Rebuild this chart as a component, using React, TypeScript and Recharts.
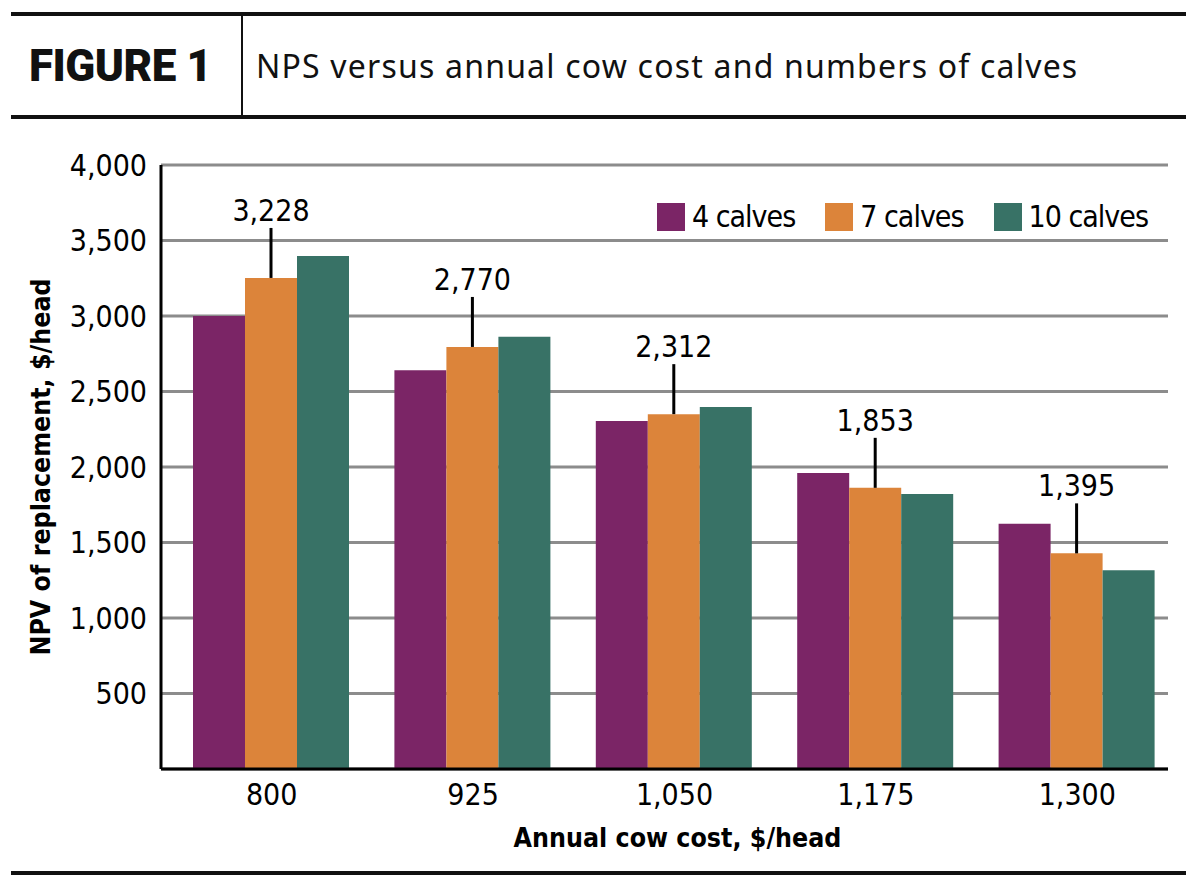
import React from 'react'
import {
  BarChart,
  Bar,
  XAxis,
  YAxis,
  CartesianGrid,
  Legend,
  LabelList,
} from 'recharts'

// annual cow cost, $/head
const categories = ['800', '925', '1,050', '1,175', '1,300']
// NPV of replacement, $/head
const calves4 = [3000, 2640, 2305, 1960, 1625]
const calves7 = [3252, 2795, 2350, 1862, 1428]
const calves10 = [3398, 2863, 2398, 1822, 1316]
// callout values printed above the 7-calf bars
const callouts = ['3,228', '2,770', '2,312', '1,853', '1,395']
const yTicks = [500, 1000, 1500, 2000, 2500, 3000, 3500, 4000]
const seriesNames = ['4 calves', '7 calves', '10 calves']
const seriesColors = ['#7b2566', '#dc843a', '#387266']

const FONT = "'Liberation Sans Narrow', 'DejaVu Sans Condensed', 'Roboto', sans-serif"

const data = categories.map((cat, i) => ({
  cat,
  c4: calves4[i],
  c7: calves7[i],
  c10: calves10[i],
  callout: callouts[i],
}))

const Callout = (props: any) => {
  const { x, y, width, value } = props
  const cx = x + width / 2
  return (
    <g>
      <line x1={cx} y1={y} x2={cx} y2={y - 50} stroke="#000" strokeWidth={3} />
      <text
        x={cx}
        y={y - 57}
        textAnchor="middle"
        fontFamily={FONT}
        fontSize={30}
        fill="#000"
      >
        {value}
      </text>
    </g>
  )
}

const LegendContent = () => (
  <div style={{ display: 'flex', alignItems: 'center', fontFamily: FONT, fontSize: 30 }}>
    {seriesNames.map((name, i) => (
      <div key={name} style={{ display: 'flex', alignItems: 'center', marginRight: i < 2 ? 30 : 0 }}>
        <span
          style={{
            display: 'inline-block',
            width: 28,
            height: 28,
            background: seriesColors[i],
            marginRight: 7,
          }}
        />
        <span style={{ color: '#000', lineHeight: '30px', letterSpacing: -1 }}>{name}</span>
      </div>
    ))}
  </div>
)

const YTitle = (props: any) => {
  const { viewBox } = props
  const x = viewBox.x + 40
  const y = viewBox.y + viewBox.height / 2
  return (
    <text
      x={x}
      y={y}
      transform={`rotate(-90, ${x}, ${y})`}
      textAnchor="middle"
      dominantBaseline="central"
      fontFamily={FONT}
      fontWeight="bold"
      fontSize={26.5}
      fill="#000"
    >
      NPV of replacement, $/head
    </text>
  )
}

const XTitle = (props: any) => {
  const { viewBox } = props
  return (
    <text
      x={viewBox.x + viewBox.width / 2 + 13}
      y={viewBox.y + 78}
      textAnchor="middle"
      fontFamily={FONT}
      fontWeight="bold"
      fontSize={26.5}
      fill="#000"
    >
      Annual cow cost, $/head
    </text>
  )
}

export default function App() {
  return (
    <div style={{ position: 'absolute', left: 0, top: 0, width: 1200, height: 884, background: '#fff' }}>
      {/* header */}
      <div style={{ position: 'absolute', left: 11, top: 12, width: 1175, height: 4, background: '#111' }} />
      <div style={{ position: 'absolute', left: 11, top: 115, width: 1175, height: 4, background: '#111' }} />
      <div style={{ position: 'absolute', left: 241, top: 16, width: 2, height: 99, background: '#111' }} />
      <div
        style={{
          position: 'absolute',
          left: 29,
          top: 40,
          fontFamily: "'Roboto', sans-serif",
          fontWeight: 900,
          fontSize: 44,
          letterSpacing: -0.5,
          lineHeight: '52px',
          color: '#111',
        }}
      >
        FIGURE 1
      </div>
      <div
        style={{
          position: 'absolute',
          left: 256,
          top: 44,
          fontFamily: "'Noto Sans', sans-serif",
          fontSize: 32,
          letterSpacing: 1.2,
          lineHeight: '44px',
          color: '#111',
        }}
      >
        NPS versus annual cow cost and numbers of calves
      </div>

      <div style={{ position: 'absolute', left: 0, top: 0 }}>
        <BarChart
          width={1200}
          height={884}
          data={data}
          margin={{ top: 165, right: 32, bottom: 0, left: 0 }}
          barCategoryGap={22}
          barGap={0}
        >
          <CartesianGrid vertical={false} stroke="#8c8c8c" strokeWidth={3} />
          <XAxis
            dataKey="cat"
            height={115}
            padding={{ left: 10, right: -10 }}
            tickLine={false}
            tickSize={0}
            tickMargin={15}
            axisLine={{ stroke: '#000', strokeWidth: 3 }}
            tick={{ fill: '#000', fontSize: 30, fontFamily: FONT }}
            label={{ content: <XTitle /> }}
          />
          <YAxis
            width={161}
            domain={[0, 4000]}
            ticks={yTicks}
            interval={0}
            tickLine={false}
            tickSize={0}
            tickMargin={14}
            tickFormatter={(v: number) => v.toLocaleString('en-US')}
            axisLine={{ stroke: '#000', strokeWidth: 3 }}
            tick={{ fill: '#000', fontSize: 30, fontFamily: FONT }}
            label={{ content: <YTitle /> }}
          />
          <Legend
            layout="horizontal"
            verticalAlign="middle"
            align="center"
            wrapperStyle={{ top: 202, left: 657, width: 'auto' }}
            content={<LegendContent />}
          />
          <Bar dataKey="c4" name={seriesNames[0]} fill={seriesColors[0]} isAnimationActive={false} />
          <Bar dataKey="c7" name={seriesNames[1]} fill={seriesColors[1]} isAnimationActive={false}>
            <LabelList dataKey="callout" content={<Callout />} />
          </Bar>
          <Bar dataKey="c10" name={seriesNames[2]} fill={seriesColors[2]} isAnimationActive={false} />
        </BarChart>
      </div>

      {/* footer rule */}
      <div style={{ position: 'absolute', left: 11, top: 871, width: 1175, height: 4, background: '#111' }} />
    </div>
  )
}
